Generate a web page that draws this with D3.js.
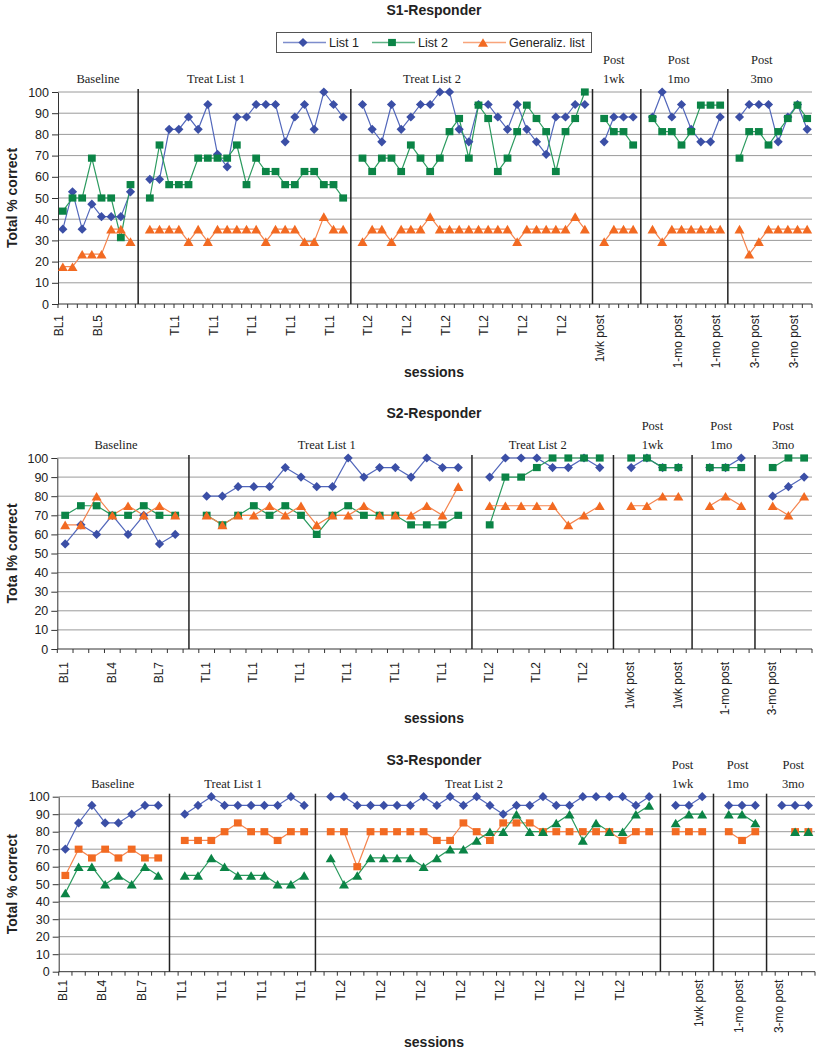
<!DOCTYPE html>
<html><head><meta charset="utf-8">
<script src="https://cdn.jsdelivr.net/npm/d3@7"></script>
<style>body{margin:0;background:#fff} svg{display:block}</style>
</head><body>
<svg id="chart" width="818" height="1050"></svg>
<script>
// ---------- DATA ----------
const rep = (s, n) => Array(n).fill(s);
const seriesNames = ["List 1", "List 2", "Generaliz. list"];

// S1-Responder
const s1Labels = ["BL1","BL2","BL3","BL4","BL5","BL6","BL7","BL8", "",
  ...rep("TL1",21), "", ...rep("TL2",24), "", ...rep("1wk post",4), "",
  ...rep("1-mo post",8), "", ...rep("3-mo post",8)];
const s1Sections = [["Baseline"],["Treat List 1"],["Treat List 2"],["Post","1wk"],["Post","1mo"],["Post","3mo"]];
const s1List1 = [35.3,52.9,35.3,47.1,41.2,41.2,41.2,52.9, null,
  58.8,58.8,82.4,82.4,88.2,82.4,94.1,70.6,64.7,88.2,88.2,94.1,94.1,94.1,76.5,88.2,94.1,82.4,100,94.1,88.2, null,
  94.1,82.4,76.5,94.1,82.4,88.2,94.1,94.1,100,100,82.4,76.5,94.1,94.1,88.2,82.4,94.1,82.4,76.5,70.6,88.2,88.2,94.1,94.1, null,
  76.5,88.2,88.2,88.2, null,
  88.2,100,88.2,94.1,82.4,76.5,76.5,88.2, null,
  88.2,94.1,94.1,94.1,76.5,88.2,94.1,82.4];
const s1List2 = [43.8,50,50,68.8,50,50,31.3,56.3, null,
  50,75,56.3,56.3,56.3,68.8,68.8,68.8,68.8,75,56.3,68.8,62.5,62.5,56.3,56.3,62.5,62.5,56.3,56.3,50, null,
  68.8,62.5,68.8,68.8,62.5,75,68.8,62.5,68.8,81.3,87.5,68.8,93.8,87.5,62.5,68.8,81.3,93.8,87.5,81.3,62.5,81.3,87.5,100, null,
  87.5,81.3,81.3,75, null,
  87.5,81.3,81.3,75,81.3,93.8,93.8,93.8, null,
  68.8,81.3,81.3,75,81.3,87.5,93.8,87.5];
const s1Gen = [17.6,17.6,23.5,23.5,23.5,35.3,35.3,29.4, null,
  35.3,35.3,35.3,35.3,29.4,35.3,29.4,35.3,35.3,35.3,35.3,35.3,29.4,35.3,35.3,35.3,29.4,29.4,41.2,35.3,35.3, null,
  29.4,35.3,35.3,29.4,35.3,35.3,35.3,41.2,35.3,35.3,35.3,35.3,35.3,35.3,35.3,35.3,29.4,35.3,35.3,35.3,35.3,35.3,41.2,35.3, null,
  29.4,35.3,35.3,35.3, null,
  35.3,29.4,35.3,35.3,35.3,35.3,35.3,35.3, null,
  35.3,23.5,29.4,35.3,35.3,35.3,35.3,35.3];

// S2-Responder
const s2Labels = ["BL1","BL2","BL3","BL4","BL5","BL6","BL7","BL8", "",
  ...rep("TL1",17), "", ...rep("TL2",8), "", ...rep("1wk post",4), "",
  ...rep("1-mo post",3), "", ...rep("3-mo post",3)];
const s2Sections = s1Sections;
const s2List1 = [55,65,60,70,60,70,55,60, null,
  80,80,85,85,85,95,90,85,85,100,90,95,95,90,100,95,95, null,
  90,100,100,100,95,95,100,95, null,
  95,100,95,95, null, 95,95,100, null, 80,85,90];
const s2List2 = [70,75,75,70,70,75,70,70, null,
  70,65,70,75,70,75,70,60,70,75,70,70,70,65,65,65,70, null,
  65,90,90,95,100,100,100,100, null,
  100,100,95,95, null, 95,95,95, null, 95,100,100];
const s2Gen = [65,65,80,70,75,70,75,70, null,
  70,65,70,70,75,70,75,65,70,70,75,70,70,70,75,70,85, null,
  75,75,75,75,75,65,70,75, null,
  75,75,80,80, null, 75,80,75, null, 75,70,80];

// S3-Responder
const s3Labels = ["BL1","BL2","BL3","BL4","BL5","BL6","BL7","BL8", "",
  ...rep("TL1",10), "", ...rep("TL2",25), "", ...rep("1wk post",3), "",
  ...rep("1-mo post",3), "", ...rep("3-mo post",3)];
const s3Sections = s1Sections;
const s3List1 = [70,85,95,85,85,90,95,95, null,
  90,95,100,95,95,95,95,95,100,95, null,
  100,100,95,95,95,95,95,100,95,100,95,100,95,90,95,95,100,95,95,100,100,100,100,95,100, null,
  95,95,100, null, 95,95,95, null, 95,95,95];
const s3Orange = [55,70,65,70,65,70,65,65, null,
  75,75,75,80,85,80,80,75,80,80, null,
  80,80,60,80,80,80,80,80,75,75,85,80,75,85,85,85,80,80,80,80,80,80,75,80,80, null,
  80,80,80, null, 80,75,80, null, null,80,80];
const s3Green = [45,60,60,50,55,50,60,55, null,
  55,55,65,60,55,55,55,50,50,55, null,
  65,50,55,65,65,65,65,60,65,70,70,75,80,80,90,80,80,85,90,75,85,80,80,90,95, null,
  85,90,90, null, 90,90,85, null, null,80,80];

const yTicks = [0,10,20,30,40,50,60,70,80,90,100];

// ---------- STYLE / LAYOUT ----------
const C = {
  blue:{mark:"#3b4fa6", line:"#5267bb"},
  green:{mark:"#0b8446", line:"#2a9a5e"},
  orange:{mark:"#f26a22", line:"#f5854f"}
};
const SANS = "'Liberation Sans', Arial, sans-serif";
const SERIF = "'Liberation Serif', 'Times New Roman', serif";

const markerPath = {
  diamond: "M0,-4.6L4.6,0L0,4.6L-4.6,0Z",
  square: "M-3.9,-3.6H3.9V3.6H-3.9Z",
  triangle: "M0,-4.3L5,4.3L-5,4.3Z"
};

const svg = d3.select("#chart");

const panels = [
  {title:"S1-Responder", yTitle:"Total % correct", labels:s1Labels, sections:s1Sections,
   left:58, right:812, top:92, bottom:304, titleY:15, xTitleY:377, interval:4, lblGap:11, lblOff:-4,
   headerAt:[3.64,15.84,38.19,57.0,63.7,72.3],
   series:[
     {v:s1List1, c:C.blue, m:"diamond"},
     {v:s1List2, c:C.green, m:"square"},
     {v:s1Gen, c:C.orange, m:"triangle"}]},
  {title:"S2-Responder", yTitle:"Tota l% correct", labels:s2Labels, sections:s2Sections,
   left:57.3, right:812, top:458, bottom:649, titleY:418, xTitleY:723, interval:3, lblGap:13, lblOff:-1,
   headerAt:[3.23,16.64,30.06,37.35,41.72,45.66],
   series:[
     {v:s2List1, c:C.blue, m:"diamond"},
     {v:s2List2, c:C.green, m:"square"},
     {v:s2Gen, c:C.orange, m:"triangle"}]},
  {title:"S3-Responder", yTitle:"Total % correct", labels:s3Labels, sections:s3Sections,
   left:58.7, right:815, top:796.7, bottom:971.7, titleY:764.5, xTitleY:1047, interval:3, lblGap:8, lblOff:-3,
   headerAt:[3.57,12.66,30.8,46.52,50.67,54.86],
   series:[
     {v:s3List1, c:C.blue, m:"diamond"},
     {v:s3Orange, c:C.orange, m:"square"},
     {v:s3Green, c:C.green, m:"triangle"}]}
];

function drawPanel(p){
  const g = svg.append("g");
  const n = p.labels.length;
  const x = d3.scaleBand().domain(d3.range(n)).range([p.left, p.right]).padding(0);
  const bw = x.bandwidth();
  const cx = i => x(i) + bw/2;
  const xAt = a => p.left + (a + 0.5) * bw;
  const y = d3.scaleLinear().domain([0,100]).range([p.bottom, p.top]);

  // gridlines
  g.append("g").selectAll("line").data(yTicks.filter(t => t > 0)).join("line")
    .attr("x1", p.left).attr("x2", p.right)
    .attr("y1", d => y(d)).attr("y2", d => y(d))
    .attr("stroke", "#9a9a9a").attr("stroke-width", 1);

  // y axis
  const ya = g.append("g").attr("transform", `translate(${p.left},0)`)
    .call(d3.axisLeft(y).tickValues(yTicks).tickSize(6).tickPadding(3).tickSizeOuter(0));
  ya.select(".domain").attr("stroke", "#333");
  ya.selectAll(".tick line").attr("stroke", "#333");
  ya.selectAll("text").attr("font-family", SANS).attr("font-size", 12.5).attr("fill", "#222");

  // x axis line + boundary ticks
  g.append("line").attr("x1", p.left).attr("x2", p.right)
    .attr("y1", y(0)).attr("y2", y(0)).attr("stroke", "#333");
  g.append("g").selectAll("line").data(d3.range(n + 1)).join("line")
    .attr("x1", i => p.left + i * bw).attr("x2", i => p.left + i * bw)
    .attr("y1", y(0)).attr("y2", y(0) + 4).attr("stroke", "#333");

  // x labels
  const shown = d3.range(n).filter(i => i % p.interval === 0 && p.labels[i] !== "");
  g.append("g").selectAll("text").data(shown).join("text")
    .attr("transform", i => `translate(${cx(i) + p.lblOff},${y(0) + p.lblGap}) rotate(-90)`)
    .attr("text-anchor", "end").attr("dy", "0.35em")
    .attr("font-family", SANS).attr("font-size", 12).attr("fill", "#222")
    .text(i => p.labels[i]);

  // separators
  const seps = d3.range(n).filter(i => p.labels[i] === "");
  g.append("g").selectAll("line").data(seps).join("line")
    .attr("x1", i => cx(i) - 2).attr("x2", i => cx(i) - 2)
    .attr("y1", y(100) - 3).attr("y2", y(0))
    .attr("stroke", "#222").attr("stroke-width", 1.5);

  // section headers
  p.sections.forEach((lines, k) => {
    const t = g.append("text").attr("text-anchor", "middle")
      .attr("font-family", SERIF).attr("font-size", 12.5).attr("fill", "#222");
    lines.forEach((ln, j) => {
      const yy = y(100) - 9 - (lines.length - 1 - j) * 19;
      t.append("tspan").attr("x", xAt(p.headerAt[k])).attr("y", yy).text(ln);
    });
  });

  // series lines
  const line = d3.line().defined(d => d.v != null).x(d => cx(d.i)).y(d => y(d.v));
  p.series.forEach(s => {
    const pts = s.v.map((v, i) => ({i, v}));
    g.append("path").datum(pts).attr("d", line)
      .attr("fill", "none").attr("stroke", s.c.line).attr("stroke-width", 1.2);
  });
  p.series.forEach(s => {
    const pts = s.v.map((v, i) => ({i, v})).filter(d => d.v != null);
    g.append("g").selectAll("path").data(pts).join("path")
      .attr("d", markerPath[s.m])
      .attr("transform", d => `translate(${cx(d.i)},${y(d.v)})`)
      .attr("fill", s.c.mark);
  });

  // titles
  g.append("text").attr("x", 434).attr("y", p.titleY).attr("text-anchor", "middle")
    .attr("font-family", SANS).attr("font-size", 14).attr("font-weight", "bold").attr("fill", "#222")
    .text(p.title);
  g.append("text").attr("x", 434).attr("y", p.xTitleY).attr("text-anchor", "middle")
    .attr("font-family", SANS).attr("font-size", 14).attr("font-weight", "bold").attr("fill", "#222")
    .text("sessions");
  g.append("text")
    .attr("transform", `translate(12,${(p.top + p.bottom) / 2}) rotate(-90)`)
    .attr("text-anchor", "middle").attr("dy", "0.35em")
    .attr("font-family", SANS).attr("font-size", 14).attr("font-weight", "bold").attr("fill", "#222")
    .text(p.yTitle);
}

panels.forEach(drawPanel);

// legend
const lg = svg.append("g");
lg.append("rect").attr("x", 276.5).attr("y", 32.5).attr("width", 315).attr("height", 20)
  .attr("fill", "#fff").attr("stroke", "#555").attr("stroke-width", 1);
const legendItems = [
  {name:seriesNames[0], c:C.blue, m:"diamond", x0:283},
  {name:seriesNames[1], c:C.green, m:"square", x0:372},
  {name:seriesNames[2], c:C.orange, m:"triangle", x0:463}
];
legendItems.forEach(it => {
  lg.append("line").attr("x1", it.x0).attr("x2", it.x0 + 43).attr("y1", 42.5).attr("y2", 42.5)
    .attr("stroke", it.c.line).attr("stroke-width", 1.5).attr("stroke-opacity", 0.75);
  lg.append("path").attr("d", markerPath[it.m]).attr("transform", `translate(${it.x0 + 20},42.5)`)
    .attr("fill", it.c.mark);
  lg.append("text").attr("x", it.x0 + 46).attr("y", 42.5).attr("dy", "0.35em")
    .attr("font-family", SANS).attr("font-size", 12.5).attr("fill", "#222").text(it.name);
});
</script>
</body></html>
